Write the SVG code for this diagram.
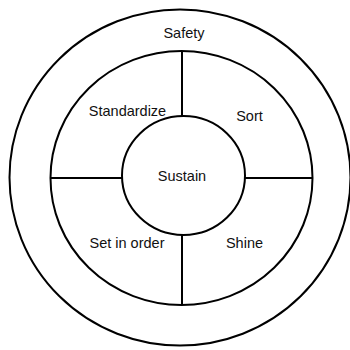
<svg xmlns="http://www.w3.org/2000/svg" width="350" height="350" viewBox="0 0 350 350">
<style>
.ring{fill:none;stroke:#000;stroke-width:2}
.ln{stroke:#000;stroke-width:2}
text{font-family:"Liberation Sans",Arial,sans-serif;font-size:14.5px;fill:#111;text-anchor:middle}
</style>
<rect width="350" height="350" fill="#fff"/>
<g id="safety">
<ellipse class="ring" cx="180" cy="177.5" rx="170.5" ry="168"/>
<text x="184" y="38">Safety</text>
</g>
<g id="middle-ring">
<ellipse class="ring" cx="181.5" cy="178" rx="131" ry="127"/>
</g>
<g id="connectors">
<line class="ln" x1="182" y1="51" x2="182" y2="116"/>
<line class="ln" x1="182" y1="235" x2="182" y2="305"/>
<line class="ln" x1="50" y1="178" x2="122" y2="178"/>
<line class="ln" x1="245" y1="178" x2="313" y2="178"/>
</g>
<g id="standardize"><text x="127.5" y="115.5">Standardize</text></g>
<g id="sort"><text x="249.5" y="120.5">Sort</text></g>
<g id="set-in-order"><text x="127" y="247.5">Set in order</text></g>
<g id="shine"><text x="244.5" y="247.5">Shine</text></g>
<g id="sustain">
<ellipse class="ring" cx="183.5" cy="175.5" rx="61.5" ry="59.5" fill="#fff"/>
<text x="182" y="180.5">Sustain</text>
</g>
</svg>
